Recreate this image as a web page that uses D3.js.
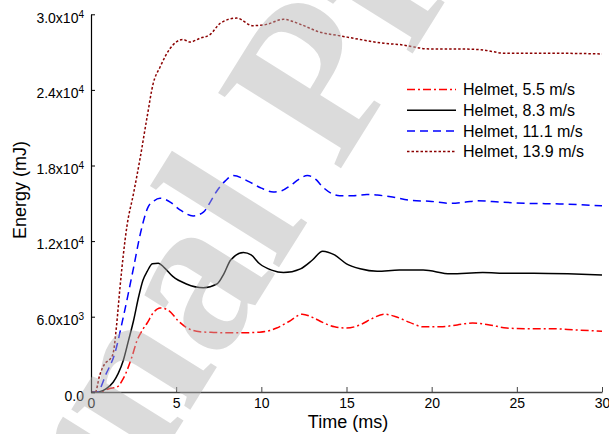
<!DOCTYPE html>
<html>
<head>
<meta charset="utf-8">
<script src="https://cdn.jsdelivr.net/npm/d3@7"></script>
<style>
    body { margin: 0; background: #fff; }
    svg text { font-family: "Liberation Sans", Arial, sans-serif; fill: #000; }
    .curve { fill: none; stroke-width: 1.5; }
</style>
</head>
<body>
<svg width="609" height="434"></svg>

<script>
    // data (time in ms, energy in mJ)
    const t55 = [0, 0.5, 1.1, 1.5, 1.9, 2.4, 2.7, 3.0, 3.3, 3.65, 4.05, 4.6, 5.1, 5.6, 6.4, 7.2, 8.5, 9.9, 10.5, 10.9, 11.6, 12.4, 13.0, 13.6, 14.3, 15.0, 15.8, 16.5, 17.2, 17.9, 18.7, 19.5, 20.5, 21.5, 22.4, 23.4, 24.4, 25.5, 27.0, 28.5, 30.0];
    const e55 = [0, 30, 300, 400, 1100, 2800, 4100, 4900, 5500, 6300, 6700, 6450, 5700, 5150, 4800, 4750, 4720, 4770, 4900, 5100, 5600, 6200, 5950, 5550, 5200, 5100, 5350, 5850, 6200, 6000, 5550, 5200, 5200, 5350, 5500, 5350, 5100, 5050, 5050, 4950, 4850];

    const t83 = [0, 0.5, 0.9, 1.3, 1.6, 1.9, 2.2, 2.5, 2.8, 3.05, 3.3, 3.6, 3.95, 4.3, 4.8, 5.6, 6.6, 7.4, 7.8, 8.2, 8.95, 9.4, 9.9, 10.6, 11.3, 12.3, 13.0, 13.6, 14.3, 15.0, 15.8, 16.8, 18.1, 19.5, 21.1, 23.0, 24.5, 26.0, 28.0, 30.0];
    const e83 = [0, 50, 300, 800, 1500, 2550, 4100, 5700, 7600, 8900, 9600, 10200, 10250, 9900, 9200, 8600, 8300, 8600, 9400, 10500, 11100, 10900, 10200, 9700, 9500, 9800, 10500, 11200, 10900, 10200, 9800, 9600, 9700, 9700, 9400, 9500, 9450, 9450, 9400, 9300];

    const t111 = [0, 0.35, 0.9, 1.4, 1.9, 2.5, 2.9, 3.35, 3.7, 4.05, 4.65, 5.2, 6.0, 6.6, 7.0, 7.4, 7.9, 8.35, 9.3, 10.0, 10.7, 11.2, 11.7, 12.2, 12.7, 13.2, 13.6, 14.1, 14.6, 15.4, 16.2, 16.8, 17.7, 18.7, 20.0, 21.1, 22.0, 22.7, 24.0, 25.6, 27.5, 30.0];
    const e111 = [0, 0, 1500, 3100, 6000, 9900, 12600, 14700, 15200, 15400, 15100, 14500, 14000, 14300, 15100, 16000, 16800, 17200, 16700, 16200, 15900, 16000, 16400, 16900, 17200, 16900, 16300, 15800, 15600, 15600, 15700, 15650, 15500, 15250, 15150, 15000, 15100, 15200, 15100, 15000, 14950, 14800];

    const t139 = [0, 0.25, 0.5, 0.7, 0.9, 1.1, 1.3, 1.5, 1.7, 2.1, 2.5, 2.9, 3.3, 3.65, 4.05, 4.65, 5.4, 5.8, 6.4, 7.0, 7.6, 8.55, 9.5, 10.3, 11.3, 12.3, 13.4, 14.6, 15.8, 17.2, 18.1, 19.9, 21.5, 22.8, 24.4, 26.0, 28.0, 30.0];
    const e139 = [0, 0, 1300, 2000, 2400, 2600, 3100, 5300, 8300, 13100, 15800, 18700, 21900, 24500, 25800, 27300, 28000, 27800, 28100, 28400, 29300, 29700, 29100, 29200, 29600, 29200, 28600, 28300, 28000, 27700, 27600, 27250, 27250, 27200, 26900, 26900, 26900, 26850];

    const seriesNames = ["Helmet, 5.5 m/s", "Helmet, 8.3 m/s", "Helmet, 11.1 m/s", "Helmet, 13.9 m/s"];
    const xTicks = [0, 5, 10, 15, 20, 25, 30];
    const yTicks = [0, 6000, 12000, 18000, 24000, 30000];
    const yTickMantissa = ["0.0", "6.0", "1.2", "1.8", "2.4", "3.0"];
    const yTickExp = [null, 3, 4, 4, 4, 4];

    const series = [
        { name: seriesNames[0], t: t55, e: e55, color: "#ff0000", dash: "8,3,2,3" },
        { name: seriesNames[1], t: t83, e: e83, color: "#000000", dash: null },
        { name: seriesNames[2], t: t111, e: e111, color: "#0000ff", dash: "8,5" },
        { name: seriesNames[3], t: t139, e: e139, color: "#8b0000", dash: "2.5,2" },
    ];

    const svg = d3.select("svg");

    const x = d3.scaleLinear().domain([0, 30]).range([91, 602]);
    const y = d3.scaleLinear().domain([0, 30000]).range([392.3, 14.3]);

    // curves
    const line = d3.line()
        .x(d => x(d[0]))
        .y(d => y(d[1]))
        .curve(d3.curveMonotoneX);

    svg.append("g")
        .selectAll("path")
        .data(series)
        .join("path")
        .attr("class", "curve")
        .attr("stroke", d => d.color)
        .attr("stroke-dasharray", d => d.dash)
        .attr("d", d => line(d.t.map((v, i) => [v, d.e[i]])));

    // x axis
    const gx = svg.append("g")
        .attr("transform", "translate(0,392)")
        .call(d3.axisBottom(x).tickValues(xTicks).tickSizeInner(-5).tickSizeOuter(0).tickPadding(6));
    gx.select(".domain").attr("stroke", "#444").attr("stroke-width", 1.3);
    gx.selectAll(".tick line").attr("stroke", "#444");
    gx.selectAll(".tick text").attr("font-size", 14).attr("font-family", null);

    // y axis
    const gy = svg.append("g")
        .attr("transform", "translate(91,0)")
        .call(d3.axisLeft(y).tickValues(yTicks).tickSizeInner(-4).tickSizeOuter(0).tickPadding(7));
    gy.select(".domain").attr("stroke", "#000").attr("stroke-width", 1.2);
    gy.selectAll(".tick text")
        .attr("font-size", 14)
        .attr("font-family", null)
        .attr("dy", "0.55em")
        .each(function (d, i) {
            const txt = d3.select(this).text("");
            if (yTickExp[i] === null) {
                txt.text(yTickMantissa[i]);
            } else {
                txt.append("tspan").text(yTickMantissa[i] + "x10");
                txt.append("tspan").attr("font-size", 10).attr("dy", "-0.5em").text(yTickExp[i]);
            }
        });

    // axis titles
    svg.append("text")
        .attr("x", 348).attr("y", 428)
        .attr("text-anchor", "middle")
        .attr("font-size", 18)
        .text("Time (ms)");

    svg.append("text")
        .attr("transform", "translate(26,190) rotate(-90)")
        .attr("text-anchor", "middle")
        .attr("font-size", 18)
        .text("Energy (mJ)");

    // legend
    const legend = svg.append("g")
        .selectAll("g")
        .data(series)
        .join("g")
        .attr("transform", (d, i) => `translate(407,${89.5 + i * 20.7})`);

    legend.append("line")
        .attr("x1", 0).attr("x2", 49)
        .attr("stroke", d => d.color)
        .attr("stroke-width", 1.5)
        .attr("stroke-dasharray", d => d.dash);

    legend.append("text")
        .attr("x", 56).attr("y", 5.6)
        .attr("font-size", 16)
        .text(d => d.name);

    // watermark
    svg.append("text")
        .attr("transform", "translate(293,245) rotate(-58)")
        .attr("x", -703).attr("y", 0)
        .attr("font-size", 220)
        .attr("font-weight", "bold")
        .style("font-family", "'Liberation Serif', 'Times New Roman', serif")
        .style("fill", "#b0b0b0")
        .attr("opacity", 0.45)
        .text("Journal Pre-proof");
</script>
</body>
</html>
